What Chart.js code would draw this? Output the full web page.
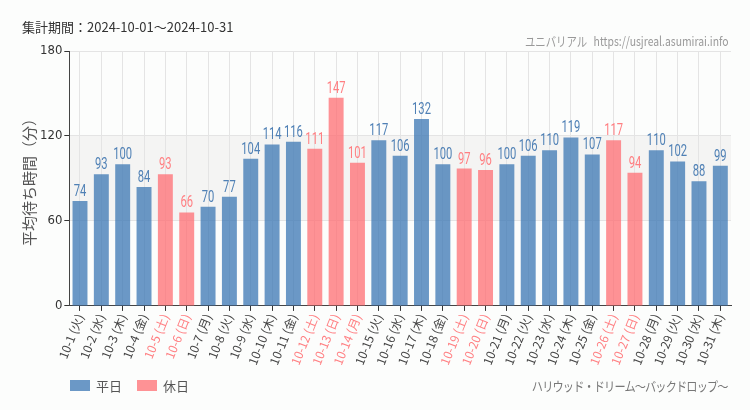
<!DOCTYPE html>
<html>
<head>
<meta charset="utf-8">
<script src="https://cdn.jsdelivr.net/npm/chart.js@4/dist/chart.umd.min.js"></script>
<style>
  body { margin: 0; background: #fcfdfc; font-family: "Noto Sans CJK JP", "Noto Sans", sans-serif; }
  #wrap { position: relative; width: 750px; height: 410px; }
  #period { position: absolute; left: 22px; top: 17px; font-size: 13px; color: #333; }
  #site { position: absolute; right: 21px; top: 31px; font-size: 13px; color: #999; white-space: nowrap;
    transform: scaleX(0.8); transform-origin: right center; }
  #site .jp { font-size: 13px; margin-right: 8px; }
  #attr { position: absolute; right: 22px; top: 376px; font-size: 13px; color: #777; white-space: nowrap;
    transform: scaleX(0.86); transform-origin: right center; letter-spacing: -1px; }
  #legend { position: absolute; left: 70px; top: 376px; font-size: 13px; color: #555; display: flex; }
  #legend span { display: flex; align-items: center; margin-right: 15px; }
  #legend i { display: inline-block; width: 20px; height: 11px; margin-right: 6px; }
</style>
</head>
<body>
<div id="wrap">
  <canvas id="chart" width="750" height="410"></canvas>
  <div id="period">集計期間：2024-10-01～2024-10-31</div>
  <div id="site"><span class="jp">ユニバリアル</span>https://usjreal.asumirai.info</div>
  <div id="legend"></div>
  <div id="attr">ハリウッド・ドリーム～バックドロップ～</div>
</div>
<script>
const days = ['10-1', '10-2', '10-3', '10-4', '10-5', '10-6', '10-7', '10-8', '10-9', '10-10',
  '10-11', '10-12', '10-13', '10-14', '10-15', '10-16', '10-17', '10-18', '10-19', '10-20',
  '10-21', '10-22', '10-23', '10-24', '10-25', '10-26', '10-27', '10-28', '10-29', '10-30', '10-31'];
const weekdays = ['火', '水', '木', '金', '土', '日', '月', '火', '水', '木',
  '金', '土', '日', '月', '火', '水', '木', '金', '土', '日',
  '月', '火', '水', '木', '金', '土', '日', '月', '火', '水', '木'];
const waitTimes = [74, 93, 100, 84, 93, 66, 70, 77, 104, 114,
  116, 111, 147, 101, 117, 106, 132, 100, 97, 96,
  100, 106, 110, 119, 107, 117, 94, 110, 102, 88, 99];
const holidays = [4, 5, 11, 12, 13, 18, 19, 25, 26];
const yTicks = [0, 60, 120, 180];

const labels = days.map((d, i) => `${d} (${weekdays[i]})`);
const weekdayData = waitTimes.map((v, i) => holidays.includes(i) ? null : v);
const holidayData = waitTimes.map((v, i) => holidays.includes(i) ? v : null);

const BLUE = 'rgba(60,120,180,0.76)';
const RED = 'rgba(255,110,115,0.75)';
const BLUE_TXT = '#4f80b5';
const RED_TXT = '#ff7f82';

const bandPlugin = {
  id: 'band',
  beforeDraw(chart) {
    const { ctx, chartArea, scales } = chart;
    const top = scales.y.getPixelForValue(120);
    const bottom = scales.y.getPixelForValue(60);
    ctx.save();
    ctx.fillStyle = '#f4f4f3';
    ctx.fillRect(chartArea.left, top, chartArea.right - chartArea.left, bottom - top);
    ctx.restore();
  }
};

// condensed value labels above each bar
const valuePlugin = {
  id: 'values',
  afterDatasetsDraw(chart) {
    const { ctx } = chart;
    const sx = 0.7;
    ctx.save();
    ctx.font = '16px Roboto, sans-serif';
    ctx.textAlign = 'center';
    ctx.textBaseline = 'bottom';
    chart.data.datasets.forEach((ds, di) => {
      const meta = chart.getDatasetMeta(di);
      ctx.fillStyle = di === 0 ? BLUE_TXT : RED_TXT;
      meta.data.forEach((bar, i) => {
        const v = ds.data[i];
        if (v == null) return;
        ctx.save();
        ctx.translate(bar.x, bar.y - 1);
        ctx.scale(sx, 1);
        ctx.fillText(String(v), 0, 0);
        ctx.restore();
      });
    });
    ctx.restore();
  }
};

const chart = new Chart(document.getElementById('chart').getContext('2d'), {
  type: 'bar',
  data: {
    labels,
    datasets: [
      { label: '平日', data: weekdayData, backgroundColor: BLUE, barPercentage: 0.7, categoryPercentage: 1 },
      { label: '休日', data: holidayData, backgroundColor: RED, barPercentage: 0.7, categoryPercentage: 1 }
    ]
  },
  options: {
    responsive: false,
    animation: false,
    layout: { padding: { left: 20, right: 19, top: 51, bottom: 42 } },
    plugins: {
      legend: { display: false },
      tooltip: { enabled: false }
    },
    scales: {
      x: {
        stacked: true,
        grid: { offset: false, color: '#e4e4e4', tickColor: '#333', tickLength: 5 },
        border: { color: '#444' },
        ticks: {
          minRotation: 68, maxRotation: 68, autoSkip: false, padding: 1,
          font: { family: '"Noto Sans CJK JP"', size: 12 },
          color: ctx => holidays.includes(ctx.index) ? RED_TXT : '#444'
        }
      },
      y: {
        stacked: true,
        min: 0, max: 180,
        afterBuildTicks: axis => { axis.ticks = yTicks.map(v => ({ value: v })); },
        grid: { color: '#e4e4e4', tickColor: '#333', tickLength: 5 },
        border: { color: '#444' },
        ticks: { color: '#333', font: { family: '"DejaVu Sans Condensed"', size: 13 }, padding: 2 },
        title: {
          display: true, text: '平均待ち時間（分）', color: '#555',
          font: { family: '"Noto Sans CJK JP"', size: 15 }, padding: { top: 0, bottom: 0 }
        }
      }
    }
  },
  plugins: [bandPlugin, valuePlugin]
});

// legend built from the chart's datasets
document.getElementById('legend').innerHTML = chart.data.datasets
  .map(ds => `<span><i style="background:${ds.backgroundColor}"></i>${ds.label}</span>`).join('');
</script>
</body>
</html>
